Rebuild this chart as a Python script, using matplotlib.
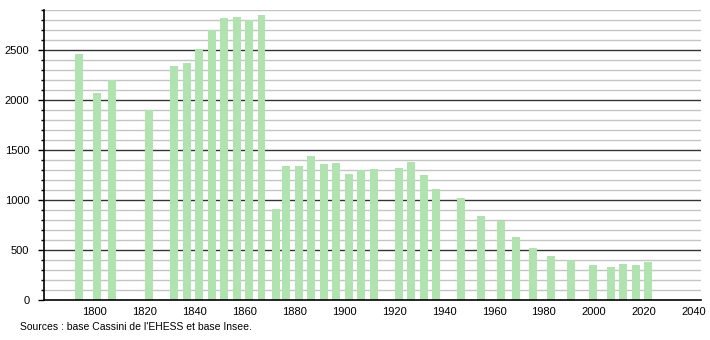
import matplotlib
matplotlib.use("Agg")
import matplotlib.pyplot as plt
import numpy as np

plt.rcParams['font.family'] = ['Liberation Sans', 'DejaVu Sans']

years = [1793, 1800, 1806, 1821, 1831, 1836, 1841, 1846, 1851, 1856, 1861, 1866,
         1872, 1876, 1881, 1886, 1891, 1896, 1901, 1906, 1911, 1921, 1926, 1931,
         1936, 1946, 1954, 1962, 1968, 1975, 1982, 1990, 1999, 2006, 2011, 2016, 2021]
population = [2460, 2067, 2200, 1900, 2340, 2373, 2510, 2697, 2820, 2830, 2800, 2850,
              912, 1345, 1338, 1438, 1358, 1368, 1258, 1305, 1315, 1325, 1385, 1255,
              1112, 1025, 845, 788, 632, 525, 445, 405, 352, 335, 365, 355, 385]
x_ticks = [1800, 1820, 1840, 1860, 1880, 1900, 1920, 1940, 1960, 1980, 2000, 2020, 2040]
y_ticks = [0, 500, 1000, 1500, 2000, 2500]
source_text = "Sources : base Cassini de l'EHESS et base Insee."

fig = plt.figure(figsize=(7.1, 3.4), dpi=100)
ax = fig.add_axes([44/710, 1 - 300/340, (701-44)/710, 290/340])

# minor and major grid
for v in range(100, 3000, 100):
    if v % 500 == 0:
        ax.axhline(v, color='#333333', lw=1.0, zorder=1)
    else:
        ax.axhline(v, color='#c4c4c4', lw=1.0, zorder=1)

ax.bar(np.array(years) + 0.8, population, width=3.2, color='#b1e3b1', zorder=2)

ax.set_xlim(1779.6, 2043)
ax.set_ylim(0, 2900)
ax.set_xticks(x_ticks)
ax.set_yticks(y_ticks)
ax.set_yticks(range(0, 2901, 100), minor=True)
ax.tick_params(axis='x', length=0, labelsize=8, pad=5)
ax.tick_params(axis='y', which='major', length=4, width=1, labelsize=8, pad=6.5)
ax.tick_params(axis='y', which='minor', length=2, width=1)
for s in ['top', 'right']:
    ax.spines[s].set_visible(False)
ax.spines['left'].set_linewidth(1.2)
ax.spines['bottom'].set_linewidth(1.2)

fig.text(20/710, 1 - 327/340, source_text, fontsize=7.5, va='center', ha='left')

fig.savefig('out.png', dpi=100)
